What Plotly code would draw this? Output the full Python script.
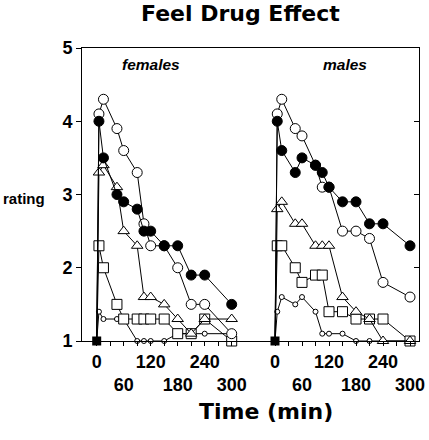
import plotly.graph_objects as go

# ---- data ----
times = [0, 5, 15, 45, 60, 90, 105, 120, 150, 180, 210, 240, 300]

f_filled = [1, 4.0, 3.5, 3.0, 2.9, 2.8, 2.5, 2.5, 2.3, 2.3, 1.9, 1.9, 1.5]
f_open   = [1, 4.1, 4.3, 3.9, 3.6, 3.3, 2.6, 2.3, 2.3, 2.0, 1.5, 1.5, 1.1]
f_tri    = [1, 3.3, 3.4, 3.1, 2.5, 2.3, 1.6, 1.6, 1.5, 1.3, 1.1, 1.3, 1.3]
f_sq     = [1, 2.3, 2.0, 1.5, 1.3, 1.3, 1.3, 1.3, 1.3, 1.1, 1.1, 1.3, 1.0]
f_small  = [1, 1.4, 1.3, 1.3, 1.3, 1.0, 1.0, 1.0, 1.0, 1.1, 1.1, 1.1, 1.1]

m_filled = [1, 4.0, 3.6, 3.3, 3.5, 3.4, 3.3, 3.1, 2.9, 2.9, 2.6, 2.6, 2.3]
m_open   = [1, 4.1, 4.3, 3.9, 3.8, 3.4, 3.1, 3.1, 2.5, 2.5, 2.4, 1.8, 1.6]
m_tri    = [1, 2.8, 2.9, 2.6, 2.6, 2.3, 2.3, 2.3, 1.6, 1.4, 1.3, 1.0, 1.0]
m_sq     = [1, 2.3, 2.3, 2.0, 1.8, 1.9, 1.9, 1.4, 1.4, 1.3, 1.3, 1.3, 1.0]
m_small  = [1, 1.4, 1.6, 1.5, 1.6, 1.4, 1.1, 1.1, 1.1, 1.0, 1.0, 1.0, 1.0]

x_tickvals = [0, 30, 60, 90, 120, 150, 180, 210, 240, 270, 300]
x_ticktext = ["0", "", "<br>60", "", "120", "", "<br>180", "", "240", "", "<br>300"]
y_tickvals = [1, 2, 3, 4, 5]

# ---- styles ----
styles = [
    ("small", dict(symbol="circle", size=5, color="white", line=dict(color="black", width=1))),
    ("square", dict(symbol="square", size=10, color="white", line=dict(color="black", width=1))),
    ("triangle", dict(symbol="triangle-up", size=10, color="white", line=dict(color="black", width=1))),
    ("open", dict(symbol="circle", size=10, color="white", line=dict(color="black", width=1))),
    ("filled", dict(symbol="circle", size=10, color="black", line=dict(color="black", width=1))),
]

panels = [
    ("x", "y", [f_small, f_sq, f_tri, f_open, f_filled]),
    ("x2", "y2", [m_small, m_sq, m_tri, m_open, m_filled]),
]

fig = go.Figure()
for xa, ya, series in panels:
    for (name, mk), vals in zip(styles, series):
        m = dict(mk)
        m["size"] = [0] + [mk["size"]] * (len(vals) - 1)
        m["opacity"] = 1
        fig.add_trace(go.Scatter(
            x=times, y=vals, xaxis=xa, yaxis=ya, mode="lines+markers",
            line=dict(color="black", width=1), marker=m,
            cliponaxis=False, showlegend=False, hoverinfo="skip"))
    fig.add_trace(go.Scatter(
        x=times[:1], y=[1], xaxis=xa, yaxis=ya, mode="markers",
        marker=dict(symbol="square", size=9, color="black", opacity=1),
        cliponaxis=False, showlegend=False, hoverinfo="skip"))

tickfont = dict(family="Liberation Sans, Arial", size=18, color="black", weight="bold")

# plot area px: 82..419 horizontally; 0.45 px per minute
left_px, right_px = 82.0, 419.0
W = right_px - left_px
split_px = 253.0
scale = 0.45
f_zero = 96.7
m_zero = 275.0
d1 = (split_px - left_px) / W

xcommon = dict(showline=True, linecolor="black", linewidth=1, mirror=True,
               ticks="outside", ticklen=4, tickcolor="black", tickangle=0,
               tickvals=x_tickvals, ticktext=x_ticktext, tickfont=tickfont,
               showgrid=False, zeroline=False, automargin=False)

fig.update_layout(
    template="none",
    width=429, height=440,
    margin=dict(l=82, r=10, t=48, b=99, autoexpand=False),
    paper_bgcolor="white", plot_bgcolor="white",
    xaxis=dict(domain=[0, d1],
               range=[(left_px - f_zero) / scale, (split_px - f_zero) / scale],
               anchor="y", **xcommon),
    xaxis2=dict(domain=[d1, 1],
                range=[(split_px - m_zero) / scale, (right_px - m_zero) / scale],
                anchor="y2", **xcommon),
    yaxis=dict(range=[1, 5], anchor="x", showline=True, linecolor="black", linewidth=1,
               ticks="outside", ticklen=5, tickcolor="black",
               tickvals=y_tickvals, tickfont=tickfont, automargin=False,
               showgrid=False, zeroline=False),
    yaxis2=dict(range=[1, 5], anchor="x2", side="right", showline=True,
                linecolor="black", linewidth=1, automargin=False,
                ticks="inside", ticklen=5, tickcolor="black",
                tickvals=y_tickvals, showticklabels=False,
                showgrid=False, zeroline=False),
    annotations=[
        dict(text="<b>Feel Drug Effect</b>", x=0.470, y=1.118, xref="paper", yref="paper",
             xanchor="center", yanchor="middle", showarrow=False,
             font=dict(family="DejaVu Sans", size=22, color="black")),
        dict(text="<b>Time (min)</b>", x=0.546, y=-0.239, xref="paper", yref="paper",
             xanchor="center", yanchor="middle", showarrow=False,
             font=dict(family="DejaVu Sans", size=22, color="black")),
        dict(text="<b>rating</b>", x=-0.172, y=0.485, xref="paper", yref="paper",
             xanchor="center", yanchor="middle", showarrow=False,
             font=dict(family="Liberation Sans, Arial", size=15, color="black")),
        dict(text="<b><i>females</i></b>", x=0.205, y=0.945, xref="paper", yref="paper",
             xanchor="center", yanchor="middle", showarrow=False,
             font=dict(family="Liberation Sans, Arial", size=15.5, color="black")),
        dict(text="<b><i>males</i></b>", x=0.780, y=0.945, xref="paper", yref="paper",
             xanchor="center", yanchor="middle", showarrow=False,
             font=dict(family="Liberation Sans, Arial", size=15.5, color="black")),
    ],
)

fig.write_html("out.html", config={"displayModeBar": False},
               post_script="document.body.style.margin='0';document.body.style.overflow='hidden';")
